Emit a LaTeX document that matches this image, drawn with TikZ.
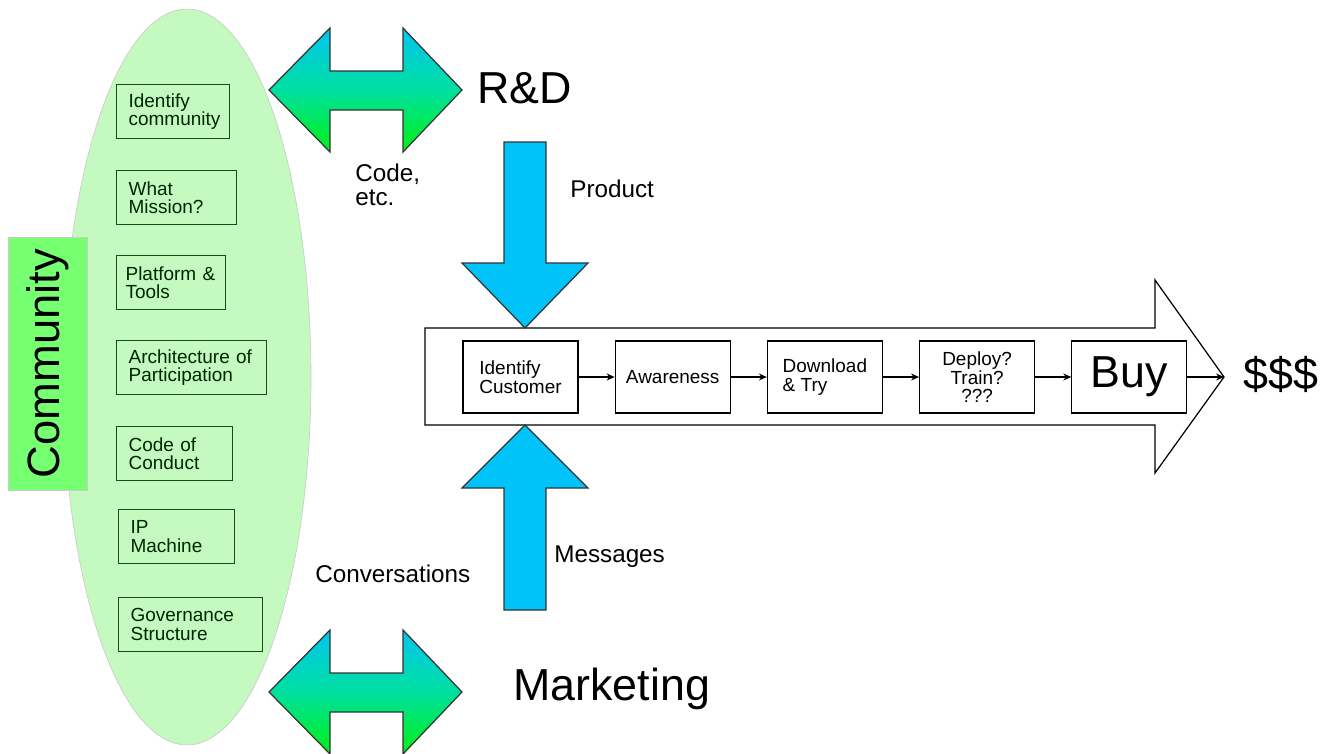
\documentclass[tikz,border=0pt]{standalone}
\usepackage{fontspec}
\setmainfont{Liberation Sans}
\usetikzlibrary{positioning,arrows.meta}
\definecolor{ovalgreen}{RGB}{196,250,192}
\definecolor{tabgreen}{RGB}{118,255,112}
\definecolor{boxgreen}{RGB}{25,75,25}
\definecolor{flowblue}{RGB}{0,195,250}
\definecolor{arrowcyan}{RGB}{0,196,240}
\definecolor{arrowmid}{RGB}{0,224,160}
\definecolor{arrowgreen}{RGB}{0,240,20}
\tikzset{every node/.style={align=center}}

\begin{document}
\begin{tikzpicture}[x=0.02cm,y=-0.02cm,node distance=0.72cm,>={Stealth[length=4.5pt,width=4pt]},
  cbox/.style={draw=boxgreen,line width=0.7pt,anchor=north west,align=left,inner xsep=0.24cm,minimum height=1.08cm,font=\fontsize{10.8}{10.6}\selectfont,text=black!85!green},
  pbox/.style={draw,line width=0.7pt,fill=white,minimum width=2.3cm,minimum height=1.44cm,font=\fontsize{10.8}{10.6}\selectfont},
  big/.style={font=\fontsize{25.5}{28}\selectfont,inner sep=0pt},
  lbl/.style={font=\fontsize{13.8}{13.6}\selectfont,inner sep=0pt},
  bluearrow/.style={draw=black!80,line width=0.7pt,fill=flowblue},
  twoway/.style={draw=black!80,line width=0.7pt,top color=arrowcyan,bottom color=arrowgreen,middle color=arrowmid}]
\useasboundingbox (0,0) rectangle (1326,754);

% community oval and its tab
\draw[draw=black!20,fill=ovalgreen] (187,377) ellipse [x radius=2.48cm,y radius=7.36cm];
\node[draw=black!20,fill=tabgreen,rotate=90,minimum width=5.06cm,minimum height=1.58cm,inner sep=0pt,font=\fontsize{25.8}{28}\selectfont] (com) at (47.5,363.5) {Community};

\node[cbox,text width=1.78cm] (c1) at (116,84) {Identify\\community};
\node[cbox,text width=1.92cm] (c2) at (116,170) {What\\Mission?};
\node[cbox,text width=1.82cm,inner xsep=0.18cm] (c3) at (116,255) {Platform \&\\Tools};
\node[cbox,text width=2.52cm] (c4) at (116,340) {Architecture of\\Participation};
\node[cbox,text width=1.84cm] (c5) at (116,426) {Code of\\Conduct};
\node[cbox,text width=1.84cm] (c6) at (118,509) {IP\\Machine};
\node[cbox,text width=2.40cm] (c7) at (118,597) {Governance\\Structure};

% two-way arrows to R&D and Marketing
\foreach \dy in {0,602}
  \draw[twoway] (269,90+\dy) -- (330,28+\dy) -- (330,71+\dy) -- (403,71+\dy) -- (403,28+\dy) -- (462,90+\dy)
    -- (403,152+\dy) -- (403,110+\dy) -- (330,110+\dy) -- (330,152+\dy) -- cycle;

\node[big,anchor=base west] (RD) at (477,103) {R\&D};
\node[big,anchor=base west] (MK) at (513,700) {Marketing};
\node[lbl,anchor=north west,align=left] (code) at (355,164) {Code,\\etc.};
\node[lbl,anchor=base west] (conv) at (315,582) {Conversations};

% pipeline
\draw[line width=0.7pt,fill=white] (425,328) -- (1155,328) -- (1155,280) -- (1224,377) -- (1155,473) -- (1155,425) -- (425,425) -- cycle;
\coordinate (tip) at (1224,377);

\draw[bluearrow] (504,142) -- (546,142) -- (546,263) -- (588,263) -- (525,328) -- (462,263) -- (504,263) -- cycle;
\draw[bluearrow] (504,610) -- (546,610) -- (546,488) -- (588,488) -- (525,425) -- (462,488) -- (504,488) -- cycle;
\node[lbl,anchor=base west] (prod) at (570,197) {Product};
\node[lbl,anchor=base west] (msg) at (554,562) {Messages};

\node[pbox,align=left] (ID) at (520.5,377) {Identify\\Customer};
\node[pbox,right=of ID] (AW) {Awareness};
\node[pbox,right=of AW,align=left] (DL) {Download\\\& Try};
\node[pbox,right=of DL,font=\fontsize{10.8}{9.8}\selectfont] (DP) {Deploy?\\Train?\\???};
\node[pbox,right=of DP,font=\fontsize{25.5}{28}\selectfont] (BY) {Buy};
\node[big,anchor=base west] (usd) at (1243,389) {\$\$\$};

\draw[->,line width=0.6pt] (ID) -- (AW);
\draw[->,line width=0.6pt] (AW) -- (DL);
\draw[->,line width=0.6pt] (DL) -- (DP);
\draw[->,line width=0.6pt] (DP) -- (BY);
\draw[->,line width=0.6pt] (BY) -- (tip);

\end{tikzpicture}
\end{document}
